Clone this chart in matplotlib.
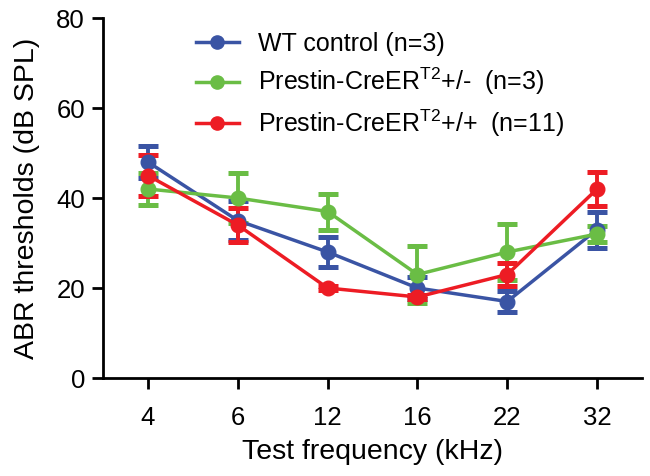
import numpy as np
import matplotlib
matplotlib.use('Agg')
import matplotlib.pyplot as plt
from matplotlib.lines import Line2D

plt.rcParams['font.family'] = ['Liberation Sans', 'DejaVu Sans']
plt.rcParams['mathtext.fontset'] = 'custom'
plt.rcParams['mathtext.rm'] = 'Liberation Sans'

# data
freqs = ['4', '6', '12', '16', '22', '32']
wt_mean = [48, 35, 28, 20, 17, 33]
wt_err = [3.5, 4.3, 3.3, 2.5, 2.3, 4.0]
het_mean = [42, 40, 37, 23, 28, 32]
het_err = [3.5, 5.5, 4.0, 6.3, 6.2, 1.8]
hom_mean = [45, 34, 20, 18, 23, 42]
hom_err = [4.5, 3.8, 0.5, 0.5, 2.6, 3.8]

labels = ['WT control (n=3)',
          r'Prestin-CreER$^{\mathrm{T2}}$+/-  (n=3)',
          r'Prestin-CreER$^{\mathrm{T2}}$+/+  (n=11)']
colors = ['#3a54a4', '#6abd45', '#ed1c24']

fig = plt.figure(figsize=(6.5, 4.76), dpi=100)
ax = fig.add_axes([103/650, 1-378/476, 539/650, 360/476])

x = np.arange(len(freqs))
handles = []
for m, e, c in zip([wt_mean, het_mean, hom_mean], [wt_err, het_err, hom_err], colors):
    ax.errorbar(x, m, yerr=e, color=c, lw=2.5, marker='o', ms=10.5,
                capsize=7, capthick=3.6, elinewidth=2.8)
    handles.append(Line2D([], [], color=c, lw=2.5, marker='o', ms=9.5))

ax.set_xlim(-0.5, 5.5)
ax.set_ylim(0, 80)
ax.set_xticks(x)
ax.set_xticklabels(freqs)
ax.set_yticks([0, 20, 40, 60, 80])
ax.spines['top'].set_visible(False)
ax.spines['right'].set_visible(False)
for s in ['left', 'bottom']:
    ax.spines[s].set_linewidth(2)
ax.tick_params(width=2, length=8, labelsize=18.5, pad=5)
ax.tick_params(axis='x', pad=12)
ax.set_xlabel('Test frequency (kHz)', fontsize=20.5, labelpad=7)
ax.set_ylabel('ABR thresholds (dB SPL)', fontsize=20.5, labelpad=12)

ax.legend(handles, labels, loc='upper left', bbox_to_anchor=(196/650, 1-32/476),
          bbox_transform=fig.transFigure, frameon=False, fontsize=18,
          borderpad=0, borderaxespad=0, handlelength=1.7, handletextpad=0.8,
          labelspacing=0.4)

fig.savefig('out.png', dpi=100)
